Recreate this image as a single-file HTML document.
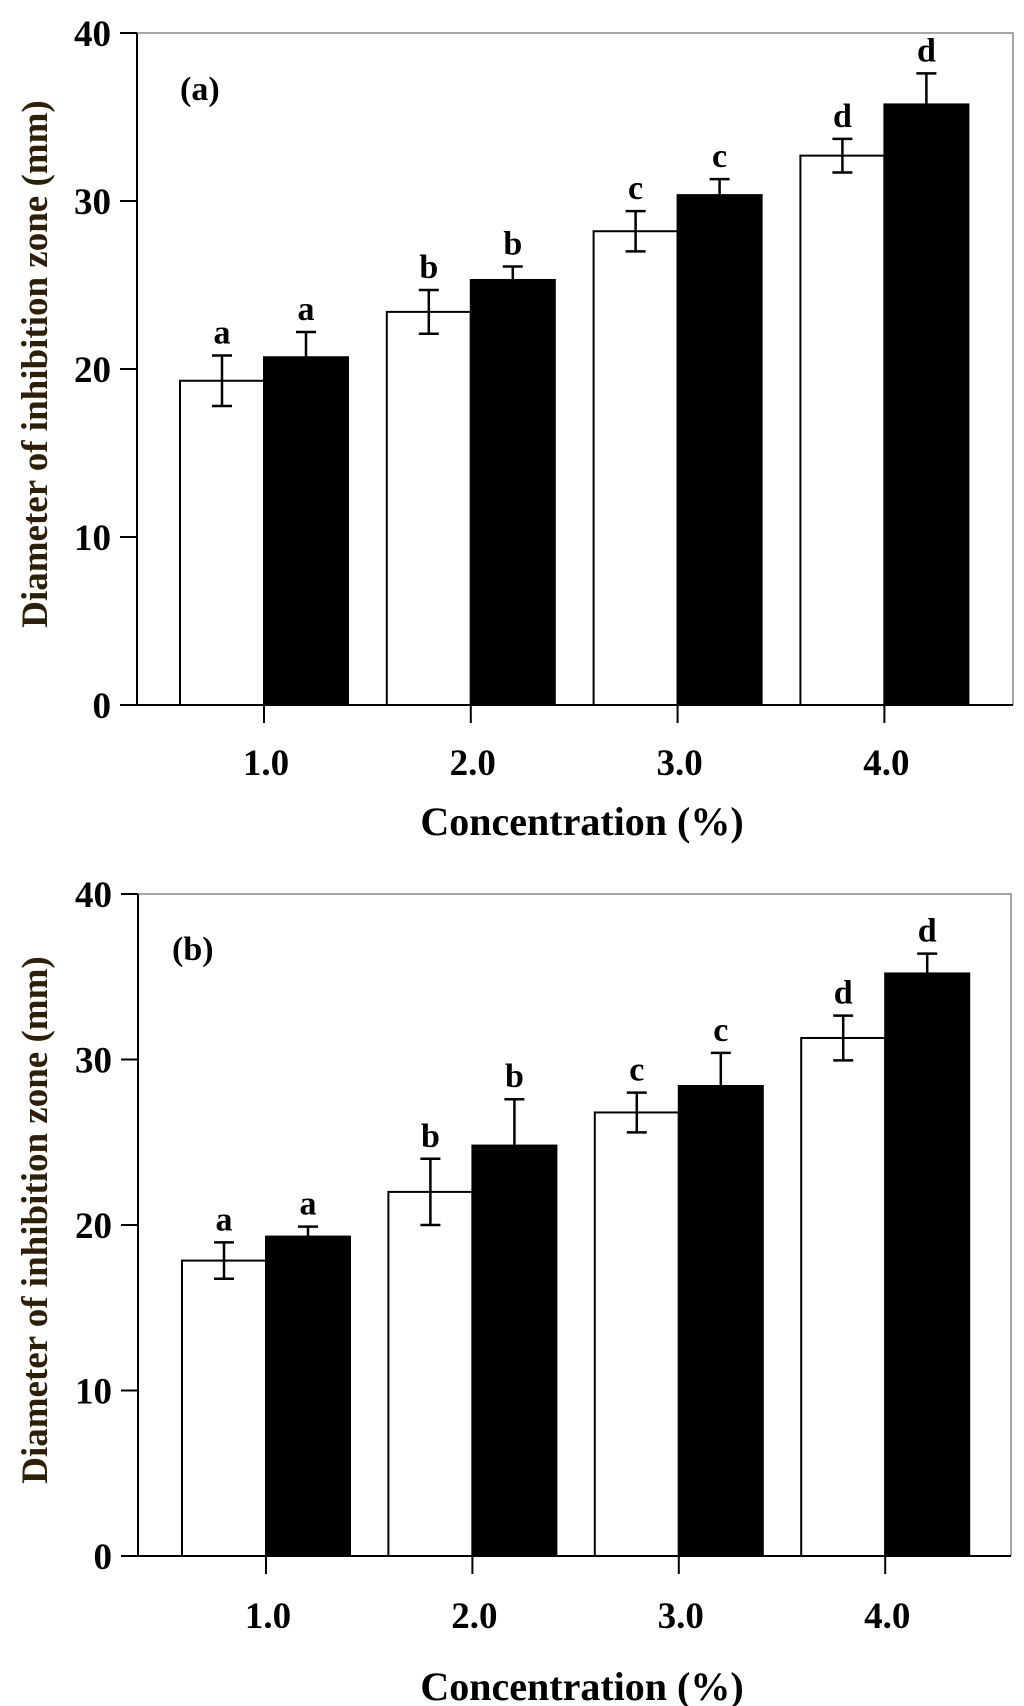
<!DOCTYPE html>
<html><head><meta charset="utf-8"><style>
body{margin:0;background:#fff;}
svg{display:block;}
text{font-family:"Liberation Serif",serif;font-weight:bold;fill:#000;}
</style></head><body>
<svg id="chart" width="1024" height="1706" viewBox="0 0 1024 1706" xmlns="http://www.w3.org/2000/svg"></svg>
<script>
const categories = ["1.0","2.0","3.0","4.0"];
const yTicks = [0,10,20,30,40];
const letters = ["a","b","c","d"];
const aWhite = [19.3,23.4,28.2,32.7];
const aWhiteErr = [1.5,1.3,1.2,1.0];
const aBlack = [20.7,25.3,30.35,35.75];
const aBlackErr = [1.5,0.8,0.95,1.85];
const bWhite = [17.85,22.0,26.8,31.3];
const bWhiteErr = [1.1,2.0,1.2,1.35];
const bBlack = [19.3,24.8,28.4,35.2];
const bBlackErr = [0.6,2.8,2.0,1.2];

const svg = document.getElementById('chart');
const NS = 'http://www.w3.org/2000/svg';
function mk(tag, attrs, parent){
  const e = document.createElementNS(NS, tag);
  for (const k in attrs) e.setAttribute(k, attrs[k]);
  (parent||svg).appendChild(e);
  return e;
}
function panel(cfg){
  const g = mk('g', {});
  
  
  const L=cfg.left,R=cfg.right,T=cfg.top,B=cfg.bottom;
  const y = v => B - (v/40)*(B-T);
  const xc = i => cfg.tick0 + i*cfg.tickStep;
  const bw = cfg.barW;
  const fr = mk('path', {d:`M${L} ${T} H${R} V${B}`, fill:'none', stroke:'#888', 'stroke-width':1.5}, g);
  
  
  for (let i=0;i<categories.length;i++){
    const c = xc(i);
    const w = mk('rect', {x:c-bw, y:y(cfg.white[i]), width:bw, height:B-y(cfg.white[i]), fill:'#fff', stroke:'#000', 'stroke-width':2}, g);
    
    
    const k = mk('rect', {x:c, y:y(cfg.black[i]), width:bw, height:B-y(cfg.black[i]), fill:'#000', stroke:'#000', 'stroke-width':2}, g);
    
    
    const wx = c - bw/2;
    const hi = y(cfg.white[i]+cfg.whiteErr[i]), lo = y(cfg.white[i]-cfg.whiteErr[i]);
    const e1 = mk('path', {d:`M${wx} ${hi} V${lo} M${wx-10} ${hi} H${wx+10} M${wx-10} ${lo} H${wx+10}`, stroke:'#000', 'stroke-width':2.5, fill:'none'}, g);
    
    
    const bx = c + bw/2;
    const bh = y(cfg.black[i]+cfg.blackErr[i]);
    const e2 = mk('path', {d:`M${bx} ${bh} V${y(cfg.black[i])} M${bx-10} ${bh} H${bx+10}`, stroke:'#000', 'stroke-width':2.5, fill:'none'}, g);
    
    
    const t1 = mk('text', {x:wx, y:hi-12, 'text-anchor':'middle', 'font-size':34}, g);
    t1.textContent = letters[i];
    
    
    const t2 = mk('text', {x:bx, y:bh-12, 'text-anchor':'middle', 'font-size':34}, g);
    t2.textContent = letters[i];
    
    
    const tk = mk('line', {x1:c, x2:c, y1:B, y2:B+18, stroke:'#000', 'stroke-width':2}, g);
    
    
    const tl = mk('text', {x:c+2, y:cfg.xLabelY, 'text-anchor':'middle', 'font-size':37}, g);
    tl.textContent = categories[i];
    
    
  }
  const ax = mk('path', {d:`M${L} ${T} V${B} H${R}`, fill:'none', stroke:'#000', 'stroke-width':2}, g);
  
  
  for (const v of yTicks){
    const tk = mk('line', {x1:L-17, x2:L, y1:y(v), y2:y(v), stroke:'#000', 'stroke-width':2}, g);
    
    
    const tl = mk('text', {x:L-26, y:y(v)+13, 'text-anchor':'end', 'font-size':37}, g);
    tl.textContent = v;
    
    
  }
  const yt = mk('text', {x:0, y:0, 'text-anchor':'middle', 'font-size':37, transform:`translate(47 ${(T+B)/2 - 5}) rotate(-90)`, style:'fill:#2e1f08'}, g);
  yt.textContent = 'Diameter of inhibition zone (mm)';
  
  
  const xt = mk('text', {x:582, y:cfg.xTitleY, 'text-anchor':'middle', 'font-size':40}, g);
  xt.textContent = 'Concentration (%)';
  
  
  const pl = mk('text', {x:cfg.panelX, y:cfg.panelY, 'font-size':34}, g);
  pl.textContent = cfg.label;
  
  
}
panel({name:'chart-a', left:137, right:1013, top:33, bottom:705, tick0:264, tickStep:206.8, barW:84,
  white:aWhite, whiteErr:aWhiteErr, black:aBlack, blackErr:aBlackErr, xLabelY:775, xTitleY:835, label:'(a)', panelX:180, panelY:100});
panel({name:'chart-b', left:138, right:1011, top:894, bottom:1556, tick0:266, tickStep:206.4, barW:84,
  white:bWhite, whiteErr:bWhiteErr, black:bBlack, blackErr:bBlackErr, xLabelY:1628, xTitleY:1700, label:'(b)', panelX:172, panelY:960});
</script>
</body></html>
